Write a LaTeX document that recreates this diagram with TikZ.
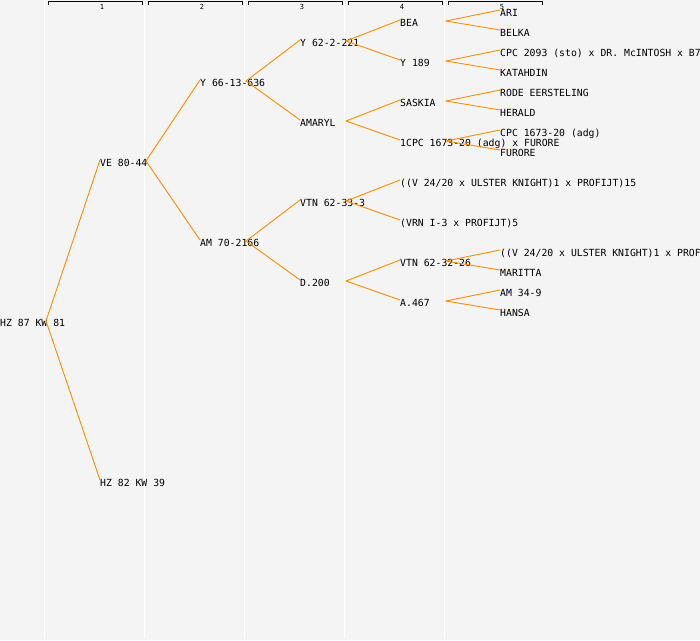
\documentclass[tikz,border=0pt]{standalone}
\usepackage{fontspec}
\newfontfamily\monof{DejaVu Sans Mono}
\definecolor{bgc}{HTML}{F4F4F4}
\definecolor{wirec}{HTML}{FF8C00}
\begin{document}
\begin{tikzpicture}[x=1pt,y=-1pt,
  lbl/.style={anchor=base west,inner sep=0pt,font=\monof\fontsize{9.8}{11}\selectfont,text=black},
  hdr/.style={inner sep=0pt,font=\monof\fontsize{7}{8}\selectfont,text=black},
  wire/.style={draw=wirec,line width=0.9pt},
  gridline/.style={draw=white,line width=1.5pt},
  bracket/.style={draw=black,line width=1pt}]
\useasboundingbox (0,0) rectangle (700,640);
\clip (0,0) rectangle (700,640);
\fill[bgc] (0,0) rectangle (700,640);
% column separators
\foreach \cx in {44.5,144.5,244.5,344.5,444.5}
  \draw[gridline] (\cx,0) -- (\cx,638);
% headers
\foreach \k in {1,...,5}{
  \draw[bracket] ({\k*100-51.5},4.5) -- ({\k*100-51.5},1.5) -- ({\k*100+42.5},1.5) -- ({\k*100+42.5},4.5);
  \node[hdr] (h\k) at ({\k*100+2},7) {\k};
}
% nodes (baseline = centre + 4)
\node[lbl] (a)    at (0,326)   {HZ 87 KW 81};
\node[lbl] (b1)   at (100,166) {VE 80-44};
\node[lbl] (b2)   at (100,486) {HZ 82 KW 39};
\node[lbl] (c1)   at (200,86)  {Y 66-13-636};
\node[lbl] (c2)   at (200,246) {AM 70-2166};
\node[lbl] (d1)   at (300,46)  {Y 62-2-221};
\node[lbl] (d2)   at (300,126) {AMARYL};
\node[lbl] (d3)   at (300,206) {VTN 62-33-3};
\node[lbl] (d4)   at (300,286) {D.200};
\node[lbl] (e1)   at (400,26)  {BEA};
\node[lbl] (e2)   at (400,66)  {Y 189};
\node[lbl] (e3)   at (400,106) {SASKIA};
\node[lbl] (e4)   at (400,146) {1CPC 1673-20 (adg) x FURORE};
\node[lbl] (e5)   at (400,186) {((V 24/20 x ULSTER KNIGHT)1 x PROFIJT)15};
\node[lbl] (e6)   at (400,226) {(VRN I-3 x PROFIJT)5};
\node[lbl] (e7)   at (400,266) {VTN 62-32-26};
\node[lbl] (e8)   at (400,306) {A.467};
\node[lbl] (f1)   at (500,16)  {ARI};
\node[lbl] (f2)   at (500,36)  {BELKA};
\node[lbl] (f3)   at (500,56)  {CPC 2093 (sto) x DR. McINTOSH x B7};
\node[lbl] (f4)   at (500,76)  {KATAHDIN};
\node[lbl] (f5)   at (500,96)  {RODE EERSTELING};
\node[lbl] (f6)   at (500,116) {HERALD};
\node[lbl] (f7)   at (500,136) {CPC 1673-20 (adg)};
\node[lbl] (f8)   at (500,156) {FURORE};
\node[lbl] (f9)   at (500,256) {((V 24/20 x ULSTER KNIGHT)1 x PROF};
\node[lbl] (f10)  at (500,276) {MARITTA};
\node[lbl] (f11)  at (500,296) {AM 34-9};
\node[lbl] (f12)  at (500,316) {HANSA};
% connectors: from a junction 46px right of parent's left edge to child's left edge
\foreach \p/\q/\r in {a/b1/b2, b1/c1/c2, c1/d1/d2, c2/d3/d4, d1/e1/e2, d2/e3/e4,
                      d3/e5/e6, d4/e7/e8, e1/f1/f2, e2/f3/f4, e3/f5/f6, e4/f7/f8,
                      e7/f9/f10, e8/f11/f12}{
  \coordinate (j\p) at ([xshift=46pt,yshift=5pt]\p.base west);
  \draw[wire] (j\p) -- ([yshift=6pt]\q.base west);
  \draw[wire] (j\p) -- ([yshift=6pt]\r.base west);
}
\end{tikzpicture}
\end{document}
